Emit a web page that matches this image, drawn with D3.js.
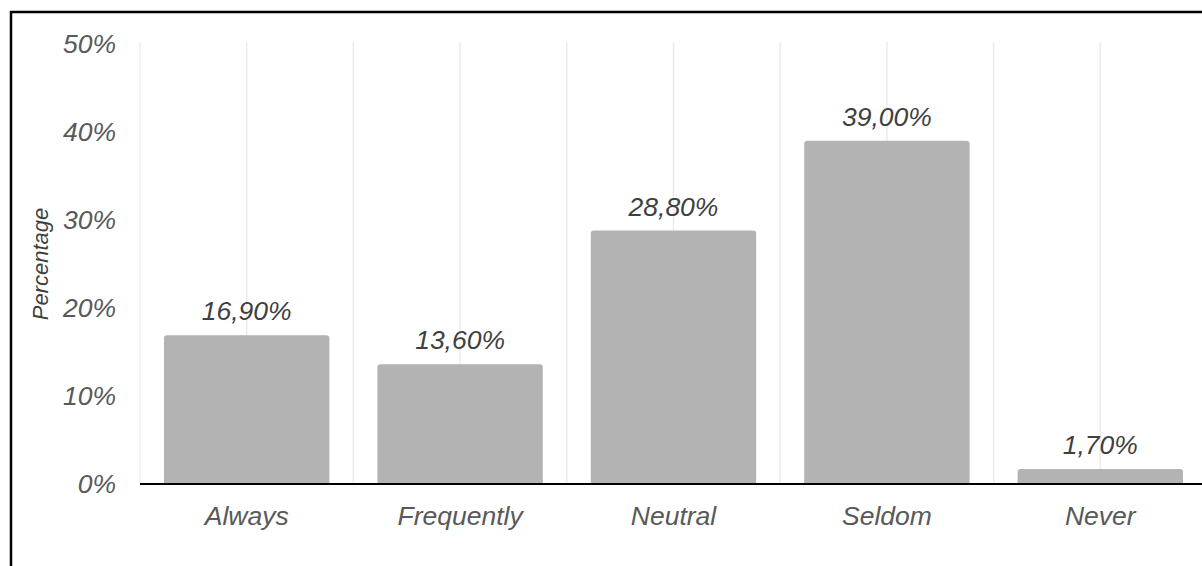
<!DOCTYPE html>
<html>
<head>
<meta charset="utf-8">
<script src="https://cdn.jsdelivr.net/npm/d3@7"></script>
<style>
  html, body { margin: 0; padding: 0; background: #fff; }
  svg { display: block; font-family: "Liberation Sans", Arial, sans-serif; }
</style>
</head>
<body>
<svg id="chart" width="1202" height="566"></svg>
<script>
// Survey responses: share of respondents per frequency answer
const categories = ["Always", "Frequently", "Neutral", "Seldom", "Never"];
const percentages = [16.9, 13.6, 28.8, 39.0, 1.7];
const valueLabels = ["16,90%", "13,60%", "28,80%", "39,00%", "1,70%"];
const yTicks = [0, 10, 20, 30, 40, 50];
const yTickLabels = ["0%", "10%", "20%", "30%", "40%", "50%"];
const yTitle = "Percentage";

const svg = d3.select("#chart");
const plot = { left: 140, right: 1207, top: 44, bottom: 484 };

const x = d3.scaleBand().domain(categories).range([plot.left, plot.right]).padding(0);
const y = d3.scaleLinear().domain([0, 50]).range([plot.bottom, plot.top]);

// outer frame
svg.append("rect")
  .attr("x", 11).attr("y", 12).attr("width", 1230).attr("height", 600)
  .attr("fill", "none").attr("stroke", "#000").attr("stroke-width", 2.5);

// vertical gridlines at band edges and band centres
const gridXs = [];
categories.forEach(c => { gridXs.push(x(c)); gridXs.push(x(c) + x.bandwidth() / 2); });
gridXs.push(plot.right);
svg.append("g").selectAll("line").data(gridXs).join("line")
  .attr("x1", d => d).attr("x2", d => d)
  .attr("y1", plot.top - 2).attr("y2", plot.bottom)
  .attr("stroke", "#ececec").attr("stroke-width", 1.5);

// bars with slightly rounded tops
const barW = x.bandwidth() * 0.775;
const r = 3;
svg.append("g").selectAll("path").data(categories).join("path")
  .attr("fill", "#b3b3b3")
  .attr("d", (c, i) => {
    const cx = x(c) + x.bandwidth() / 2;
    const x0 = cx - barW / 2, x1 = cx + barW / 2;
    const yt = y(percentages[i]), yb = y(0);
    return `M${x0},${yb} L${x0},${yt + r} Q${x0},${yt} ${x0 + r},${yt} L${x1 - r},${yt} Q${x1},${yt} ${x1},${yt + r} L${x1},${yb} Z`;
  });

// baseline
svg.append("line")
  .attr("x1", plot.left).attr("x2", 1202)
  .attr("y1", y(0)).attr("y2", y(0))
  .attr("stroke", "#000").attr("stroke-width", 2);

// value labels
svg.append("g").selectAll("text").data(categories).join("text")
  .attr("x", c => x(c) + x.bandwidth() / 2)
  .attr("y", (c, i) => y(percentages[i]) - 15)
  .attr("text-anchor", "middle")
  .attr("font-size", 26.5).attr("font-style", "italic")
  .attr("fill", "#3f3f3f")
  .text((c, i) => valueLabels[i]);

// y-axis tick labels
svg.append("g").selectAll("text").data(yTicks).join("text")
  .attr("x", 116)
  .attr("y", d => y(d) + 9)
  .attr("text-anchor", "end")
  .attr("font-size", 26.5).attr("font-style", "italic")
  .attr("fill", "#595959")
  .text((d, i) => yTickLabels[i]);

// category labels
svg.append("g").selectAll("text").data(categories).join("text")
  .attr("x", c => x(c) + x.bandwidth() / 2)
  .attr("y", 525)
  .attr("text-anchor", "middle")
  .attr("font-size", 26.5).attr("font-style", "italic")
  .attr("fill", "#595959")
  .text(c => c);

// y-axis title
svg.append("text")
  .attr("transform", `translate(48, ${(plot.top + plot.bottom) / 2}) rotate(-90)`)
  .attr("text-anchor", "middle")
  .attr("font-size", 22).attr("font-style", "italic")
  .attr("fill", "#3f3f3f")
  .text(yTitle);
</script>
</body>
</html>
